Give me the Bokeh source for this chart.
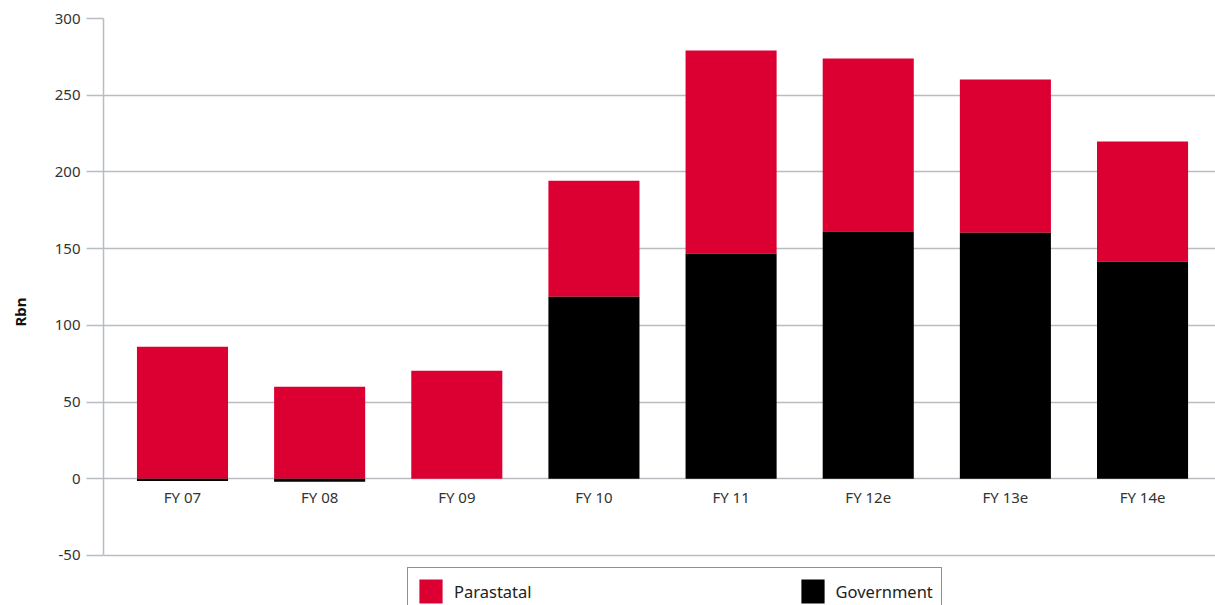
from bokeh.plotting import figure
from bokeh.models import Range1d, FixedTicker, Legend, LegendItem, ColumnDataSource
from bokeh.core.properties import value
from bokeh.embed import file_html
from bokeh.resources import INLINE

categories = ["FY 07", "FY 08", "FY 09", "FY 10", "FY 11", "FY 12e", "FY 13e", "FY 14e"]
government = [-1.5, -2.0, 0.0, 118.7, 146.7, 161.1, 160.4, 141.5]
parastatal = [86.0, 60.0, 70.4, 75.6, 132.4, 112.8, 99.8, 78.3]
y_ticks = [-50, 0, 50, 100, 150, 200, 250, 300]
y_tick_labels = ["-50", "0", "50", "100", "150", "200", "250", "300"]

RED = "#dc0032"
GRID = "#b9bdc2"
FONT = "Noto Sans"

xs = list(range(len(categories)))
par_bottom = [max(g, 0.0) for g in government]
par_top = [b + v for b, v in zip(par_bottom, parastatal)]

src = ColumnDataSource(dict(x=xs, gov=government, zero=[0.0] * len(xs),
                            pb=par_bottom, pt=par_top, cat=categories))

p = figure(width=1215, height=605, output_backend="svg", toolbar_location=None,
           x_range=Range1d(-0.576, 7.532), y_range=Range1d(-82.6, 300),
           x_axis_location=None,
           min_border_left=103, min_border_right=0, min_border_top=18, min_border_bottom=0)
p.outline_line_color = None
p.background_fill_color = "white"
p.border_fill_color = "white"

r_par = p.vbar(x="x", bottom="pb", top="pt", width=0.664, source=src,
               fill_color=RED, line_color=None)
r_gov = p.vbar(x="x", bottom="zero", top="gov", width=0.664, source=src,
               fill_color="black", line_color=None)

# category labels under the zero line
p.text(x="x", y="zero", text="cat", source=src, y_offset=8,
       text_align="center", text_baseline="top",
       text_font=value(FONT), text_font_size="15px", text_color="#333333")

# grid
p.xgrid.grid_line_color = None
p.ygrid.grid_line_color = GRID
p.ygrid.grid_line_width = 1.5
p.ygrid.ticker = FixedTicker(ticks=y_ticks)

# y axis
ya = p.yaxis[0]
ya.ticker = FixedTicker(ticks=y_ticks)
ya.major_label_overrides = {t: l for t, l in zip(y_ticks, y_tick_labels)}
ya.bounds = (-50, 300)
ya.axis_line_color = GRID
ya.axis_line_width = 1.5
ya.major_tick_line_color = GRID
ya.major_tick_line_width = 1.5
ya.major_tick_out = 17
ya.major_tick_in = 0
ya.minor_tick_line_color = None
ya.major_label_standoff = 6
ya.major_label_text_font = FONT
ya.major_label_text_font_size = "15px"
ya.major_label_text_color = "#333333"
ya.axis_label = "Rbn"
ya.axis_label_text_font = FONT
ya.axis_label_text_font_style = "bold"
ya.axis_label_text_font_size = "15px"
ya.axis_label_text_color = "#111111"
ya.axis_label_standoff = 22

legend = Legend(items=[LegendItem(label="Parastatal", renderers=[r_par]),
                       LegendItem(label="Government", renderers=[r_gov])],
                orientation="horizontal", location=(304, -10))
legend.border_line_color = "#222222"
legend.border_line_width = 1
legend.padding = 8
legend.margin = 0
legend.spacing = 266
legend.glyph_width = 29
legend.glyph_height = 30
legend.label_standoff = 9
legend.label_text_font = FONT
legend.label_text_font_size = "16.5px"
legend.label_text_color = "#222222"
legend.background_fill_alpha = 1
p.add_layout(legend, "center")

open("out.html", "w").write(file_html(p, INLINE))
